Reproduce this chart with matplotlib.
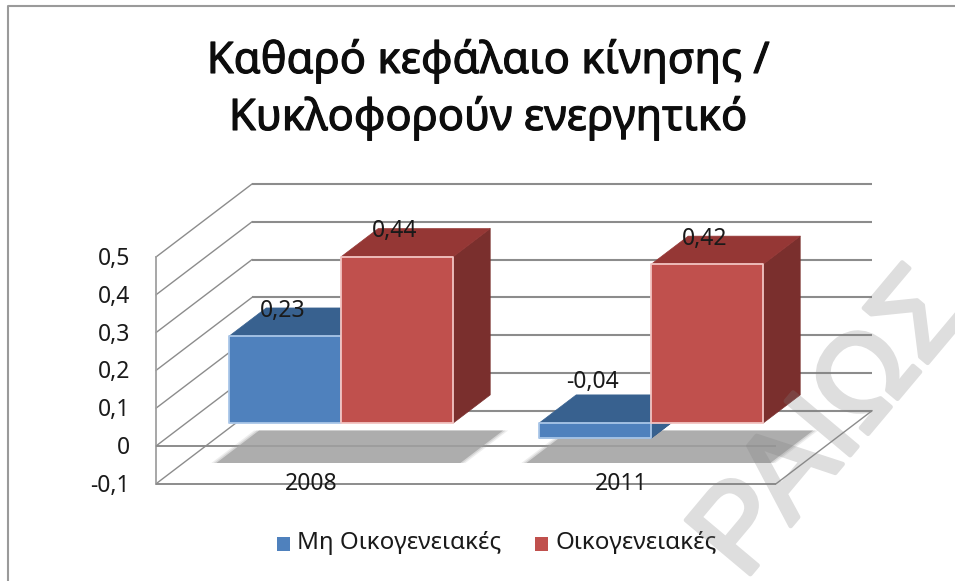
import matplotlib
matplotlib.use("Agg")
import numpy as np
import matplotlib.pyplot as plt
import matplotlib.patheffects as pe
from matplotlib.patches import Polygon, Rectangle

categories = ["2008", "2011"]
series_names = ["Μη Οικογενειακές", "Οικογενειακές"]
non_family = [0.23, -0.04]
family = [0.44, 0.42]
value_labels = [["0,23", "-0,04"], ["0,44", "0,42"]]
tick_values = [-0.1, 0, 0.1, 0.2, 0.3, 0.4, 0.5]
tick_labels = ["-0,1", "0", "0,1", "0,2", "0,3", "0,4", "0,5"]
title_lines = ["Καθαρό κεφάλαιο κίνησης /", "Κυκλοφορούν ενεργητικό"]

W, H = 955, 581
plt.rcParams["font.family"] = ["Noto Sans", "DejaVu Sans"]

# one category is 310 px wide, 0.1 on the value axis is 37.8 px
PX_X = 310.0
PX_V = 378.0
X0 = 311.0   # pixel column of category 0 on the front plane
V0 = 446.0   # pixel row of value 0 on the front plane
DEPTH_X = 96 / PX_X
DEPTH_V = 73 / PX_V

fig = plt.figure(figsize=(W / 100, H / 100), dpi=100, facecolor="white")
ax = fig.add_axes([0, 0, 1, 1])
ax.set_xlim(-X0 / PX_X, (W - X0) / PX_X)
ax.set_ylim((V0 - H) / PX_V, V0 / PX_V)
ax.axis("off")


def proj(x, v, d):
    # oblique projection, d=0 is the front of the box and d=1 the back wall
    return (x + d * DEPTH_X, v + d * DEPTH_V)


def face(points, color, z, edge="none", lw=0.0, alpha=None):
    ax.add_patch(Polygon([proj(*p) for p in points], closed=True, facecolor=color,
                         edgecolor=edge, linewidth=lw, zorder=z, alpha=alpha,
                         joinstyle="round"))


def fade(im, dpi):
    # flatten fill and stroke into one translucent layer
    im = im.copy()
    im[..., 3] *= 0.26
    return im, 0, 0


x_left, x_right = -0.5, 1.5
floor = tick_values[0]
top = tick_values[-1]
grid_c = "#8c8c8c"
label_size = 16.5
text_c = "#1a1a1a"

# back wall gridlines and side wall diagonals
for v in tick_values:
    xs, ys = zip(proj(x_left, v, 1), proj(x_right, v, 1))
    ax.plot(xs, ys, color=grid_c, lw=1.5, zorder=1, solid_capstyle="butt")
    xs, ys = zip(proj(x_left, v, 0), proj(x_left, v, 1))
    ax.plot(xs, ys, color=grid_c, lw=1.0, zorder=1)

# left edge of the box, floor edges, and the front lines at zero and the floor
xs, ys = zip(proj(x_left, floor, 0), proj(x_left, top, 0))
ax.plot(xs, ys, color="#a0a0a0", lw=1.3, zorder=1)
xs, ys = zip(proj(x_right, floor, 0), proj(x_right, floor, 1))
ax.plot(xs, ys, color=grid_c, lw=1.0, zorder=1)
for v in [0, floor]:
    xs, ys = zip(proj(x_left, v, 0), proj(x_right, v, 0))
    ax.plot(xs, ys, color=grid_c, lw=1.4, zorder=1.5, solid_capstyle="butt")

for i, v in enumerate(tick_values):
    x, y = proj(x_left, v, 0)
    ax.text(x - 26 / PX_X, y - 2 / PX_V, tick_labels[i], ha="right", va="center",
            fontsize=label_size, color=text_c, zorder=8)

for i, name in enumerate(categories):
    x, y = proj(i, floor, 0)
    ax.text(x, y, name, ha="center", va="center", fontsize=label_size, color=text_c, zorder=8)

bar_w = 112 / PX_X
d_front = 0.315
d_back = 0.70
blue = ("#4f81bd", "#38618f", "#2f4f78", "#a9c6e8")
red = ("#c0504d", "#953735", "#7a2f2d", "#f2c4c2")

# soft shadows lying on the floor under each pair of bars
for i in range(len(categories)):
    xl = i - bar_w - 10 / PX_X
    xr = i + bar_w + 10 / PX_X
    for grow, alpha in [(5, 0.18), (2.5, 0.3), (0, 0.75)]:
        g = grow / PX_X
        pts = [(xl - g, floor, d_front - 0.03), (xr + g, floor, d_front - 0.03),
               (xr + g, floor, d_back + 0.03), (xl - g, floor, d_back + 0.03)]
        face(pts, "#a0a0a0", 2, alpha=alpha)


def draw_bar(xl, value, colors, z):
    xr = xl + bar_w
    front, topc, side, edge = colors
    face([(xr, 0, d_front), (xr, value, d_front), (xr, value, d_back), (xr, 0, d_back)],
         side, z, edge=side, lw=0.5)
    face([(xl, value, d_front), (xr, value, d_front), (xr, value, d_back), (xl, value, d_back)],
         topc, z + 0.1, edge=topc, lw=0.5)
    if value < 0:
        # the top of a negative bar sits at zero
        face([(xl, 0, d_front), (xr, 0, d_front), (xr, 0, d_back), (xl, 0, d_back)],
             topc, z + 0.1, edge=topc, lw=0.5)
    face([(xl, 0, d_front), (xr, 0, d_front), (xr, value, d_front), (xl, value, d_front)],
         front, z + 0.2, edge=edge, lw=1.3)


for i in range(len(categories)):
    draw_bar(i - bar_w, non_family[i], blue, 4 + i)
    draw_bar(i, family[i], red, 4.5 + i)

# data labels sit on the top faces
for i in range(len(categories)):
    for j, vals in enumerate([non_family, family]):
        xc = i - bar_w / 2 + j * bar_w
        x, y = proj(xc, abs(vals[i]), (d_front + d_back) / 2)
        ax.text(x - 21 / PX_X, y + 11.5 / PX_V, value_labels[j][i], ha="center", va="center",
                fontsize=label_size, color=text_c, zorder=9)

for line, base in zip(title_lines, [73, 130]):
    ax.text(488 / W, 1 - base / H, line, transform=ax.transAxes, ha="center", va="baseline",
            fontsize=31.3, color="#0d0d0d", zorder=9,
            path_effects=[pe.withStroke(linewidth=0.8, foreground="#0d0d0d")])

# legend along the bottom
for name, color, px, tx in [(series_names[0], blue[0], 277, 297), (series_names[1], red[0], 535, 555)]:
    ax.add_patch(Rectangle((px / W, 1 - 551 / H), 13 / W, 14 / H, transform=ax.transAxes,
                           facecolor=color, edgecolor="none", zorder=8))
    ax.text(tx / W, 1 - 549 / H, name, transform=ax.transAxes, ha="left", va="baseline",
            fontsize=17.4, color=text_c, zorder=8)

# chart frame shows only on the top and left
ax.plot([8 / W, 8 / W, 1], [0, 1 - 6 / H, 1 - 6 / H], transform=ax.transAxes,
        color="#9a9a9a", lw=1.5, zorder=0)

# overprinted watermark, running off the right and bottom edges
mark = ax.text(972 / W, 1 - 310 / H, "ΡΑΙΩΣ", transform=ax.transAxes,
               ha="right", va="baseline", fontsize=88, rotation=50, rotation_mode="anchor",
               clip_on=False, color="#808080", family="Liberation Sans", zorder=20,
               path_effects=[pe.withStroke(linewidth=3.2, foreground="#808080")])
mark.set_agg_filter(fade)

fig.savefig("out.png", dpi=100, facecolor="white")
